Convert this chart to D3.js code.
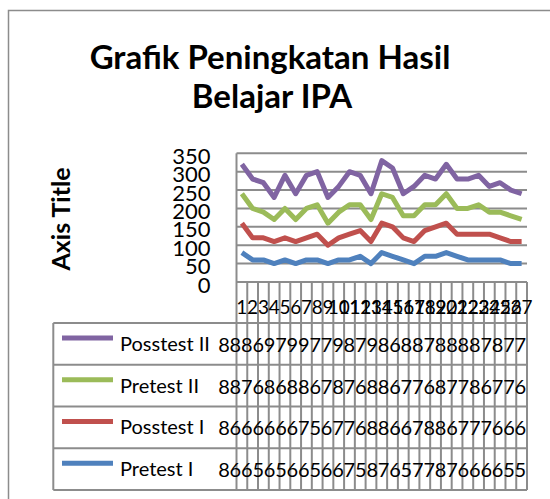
<!DOCTYPE html>
<html>
<head>
<meta charset="utf-8">
<script src="https://cdn.jsdelivr.net/npm/d3@7"></script>
<style>
  body { margin: 0; background: #fff; }
  text { font-family: Lato, "Open Sans", sans-serif; fill: #000; }
</style>
</head>
<body>
<svg id="chart" width="550" height="499"></svg>
<script>
const categories = d3.range(1, 28).map(String)
const seriesNames = ["Pretest I", "Posstest I", "Pretest II", "Posstest II"]
const pretest1  = [80,60,60,50,60,50,60,60,50,60,60,70,50,80,70,60,50,70,70,80,70,60,60,60,60,50,50]
const posttest1 = [80,60,60,60,60,60,60,70,50,60,70,70,60,80,80,60,60,70,80,80,60,70,70,70,60,60,60]
const pretest2  = [80,80,70,60,80,60,80,80,60,70,80,70,60,80,80,60,70,70,60,80,70,70,80,60,70,70,60]
const posttest2 = [80,80,80,60,90,70,90,90,70,70,90,80,70,90,80,60,80,80,70,80,80,80,80,70,80,70,70]
const yTicks = [0, 50, 100, 150, 200, 250, 300, 350]
const colors = ["#4F81BD", "#C0504D", "#9BBB59", "#8064A2"]

const values = [pretest1, posttest1, pretest2, posttest2]
const rows = categories.map((c, i) => {
  const r = { cat: c }
  seriesNames.forEach((s, k) => r[s] = values[k][i])
  return r
})

const svg = d3.select("#chart")
const grey = "#8c8c8c"

// outer chart frame
svg.append("path")
  .attr("d", "M8.5,499 V10.5 H550")
  .attr("fill", "none").attr("stroke", grey).attr("stroke-width", 1.5)

// title
const title = svg.append("text")
  .attr("text-anchor", "middle")
  .style("font-weight", "bold").style("font-size", "33px")
title.append("tspan").attr("x", 270).attr("y", 69).text("Grafik Peningkatan Hasil")
title.append("tspan").attr("x", 272).attr("y", 108).text("Belajar IPA")

// axis title
svg.append("text")
  .attr("transform", "translate(70,219) rotate(-90)")
  .attr("text-anchor", "middle")
  .style("font-weight", "bold").style("font-size", "25px")
  .text("Axis Title")

const plotLeft = 236.5, plotRight = 527, plotTop = 153.3, plotBottom = 282
const x = d3.scaleBand().domain(categories).range([plotLeft, plotRight])
const y = d3.scaleLinear().domain([0, 350]).range([plotBottom, plotTop])

// gridlines
svg.append("g").selectAll("line")
  .data(yTicks.filter(t => t > 0))
  .join("line")
  .attr("x1", plotLeft).attr("x2", plotRight)
  .attr("y1", d => y(d)).attr("y2", d => y(d))
  .attr("stroke", grey).attr("stroke-width", 2)

svg.append("line")
  .attr("x1", plotLeft).attr("x2", plotLeft).attr("y1", plotTop).attr("y2", plotBottom)
  .attr("stroke", grey).attr("stroke-width", 2)

// y tick labels
svg.append("g").selectAll("text")
  .data(yTicks)
  .join("text")
  .attr("x", 210.5).attr("y", d => y(d) + 2)
  .attr("text-anchor", "end").attr("dominant-baseline", "central")
  .style("font-size", "22px")
  .text(d => d)

// stacked lines
const stack = d3.stack().keys(seriesNames)(rows)
const line = d3.line()
  .x((d, i) => x(categories[i]) + x.bandwidth() / 2)
  .y(d => y(d[1]))

svg.append("g").selectAll("path")
  .data(stack)
  .join("path")
  .attr("d", d => line(d))
  .attr("fill", "none")
  .attr("stroke", (d, i) => colors[i])
  .attr("stroke-width", 5)
  .attr("stroke-linejoin", "round")

// data table
const tableTop = 323, rowH = 41.75, legendLeft = 53.3
const tableRows = seriesNames.slice().reverse()
const tableBottom = tableTop + rowH * tableRows.length

const tg = svg.append("g")
tg.append("line")
  .attr("x1", plotLeft).attr("x2", plotRight).attr("y1", plotBottom).attr("y2", plotBottom)
  .attr("stroke", grey).attr("stroke-width", 2)
tg.selectAll("line.col")
  .data(categories.concat(["end"]))
  .join("line").attr("class", "col")
  .attr("x1", d => d === "end" ? plotRight : x(d))
  .attr("x2", d => d === "end" ? plotRight : x(d))
  .attr("y1", plotBottom).attr("y2", tableBottom)
  .attr("stroke", grey).attr("stroke-width", 2)
tg.selectAll("line.row")
  .data(d3.range(tableRows.length + 1))
  .join("line").attr("class", "row")
  .attr("x1", legendLeft).attr("x2", plotRight)
  .attr("y1", i => tableTop + i * rowH).attr("y2", i => tableTop + i * rowH)
  .attr("stroke", grey).attr("stroke-width", 2)
tg.append("line")
  .attr("x1", legendLeft).attr("x2", legendLeft)
  .attr("y1", tableTop).attr("y2", tableBottom)
  .attr("stroke", grey).attr("stroke-width", 2)

// category labels
svg.append("g").selectAll("text")
  .data(categories)
  .join("text")
  .attr("x", d => x(d) + x.bandwidth() / 2)
  .attr("y", 314)
  .attr("text-anchor", "middle")
  .style("font-size", "19px")
  .text(d => d)

// legend keys + values
const step = 11.4, textRight = 526
tableRows.forEach((name, r) => {
  const k = seriesNames.indexOf(name)
  const cy = tableTop + r * rowH + rowH / 2
  svg.append("line")
    .attr("x1", 62).attr("x2", 113).attr("y1", cy - 6).attr("y2", cy - 6)
    .attr("stroke", colors[k]).attr("stroke-width", 5)
  svg.append("text")
    .attr("x", 120).attr("y", cy + 7)
    .style("font-size", "20px")
    .text(name)

  const cells = svg.append("g").selectAll("svg")
    .data(values[k])
    .join("svg")
    .attr("x", (d, i) => textRight - (values[k].length - i) * step)
    .attr("y", cy - rowH / 2)
    .attr("width", step).attr("height", rowH)
  cells.append("text")
    .attr("x", 0).attr("y", rowH / 2 + 8)
    .style("font-size", "20px")
    .text(d => d)
})
</script>
</body>
</html>
